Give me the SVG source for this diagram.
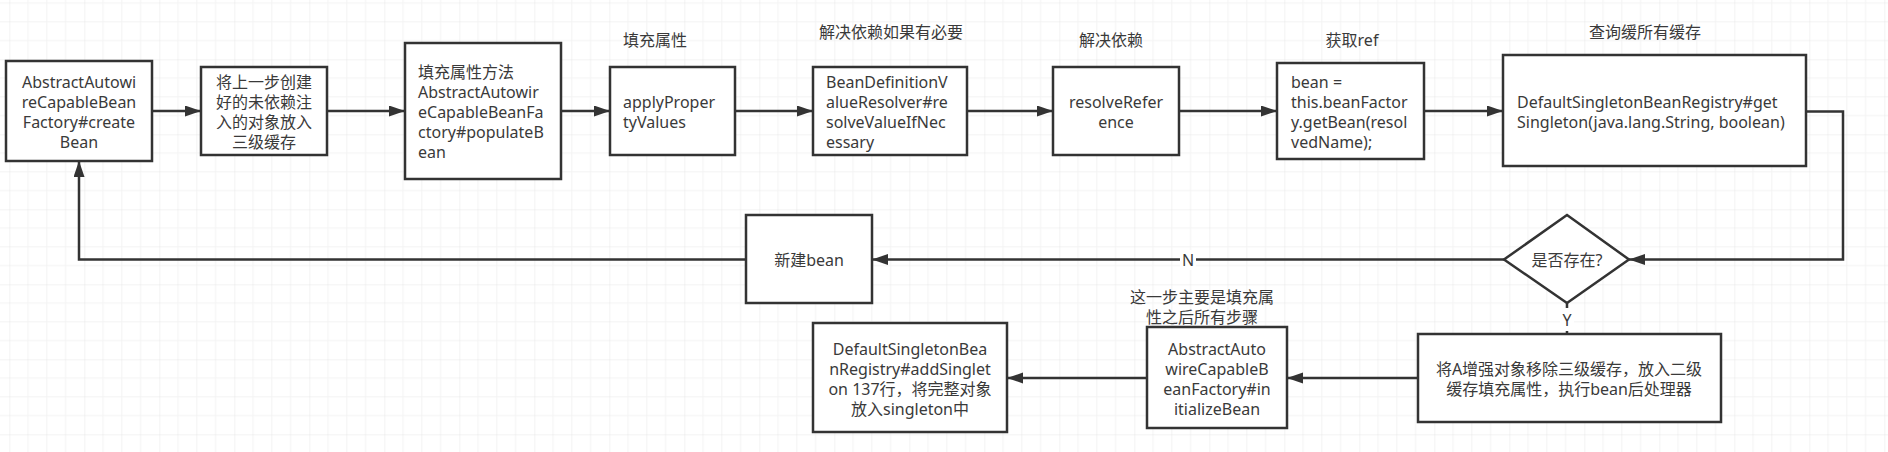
<svg xmlns="http://www.w3.org/2000/svg" width="1888" height="452" viewBox="0 0 1888 452">
<defs>
<pattern id="grid" x="9.3" y="59.3" width="75" height="75" patternUnits="userSpaceOnUse">
<rect x="0" y="18.25" width="75" height="1" fill="#f3f3f3"/>
<rect x="0" y="37" width="75" height="1" fill="#f3f3f3"/>
<rect x="0" y="55.75" width="75" height="1" fill="#f3f3f3"/>
<rect x="18.25" y="0" width="1" height="75" fill="#f3f3f3"/>
<rect x="37" y="0" width="1" height="75" fill="#f3f3f3"/>
<rect x="55.75" y="0" width="1" height="75" fill="#f3f3f3"/>
<rect x="0" y="-0.5" width="75" height="1" fill="#e6e6e6"/>
<rect x="-0.5" y="0" width="1" height="75" fill="#e6e6e6"/>
</pattern>
<marker id="arr" markerUnits="userSpaceOnUse" markerWidth="17" markerHeight="12" refX="16" refY="5.5" orient="auto">
<path d="M0,0 L16,5.5 L0,11 Z" fill="#333"/>
</marker>
</defs>
<style>
.box{fill:#fff;stroke:#333;stroke-width:2.5}
.t{font-family:"Noto Sans","Noto Sans CJK SC",sans-serif;font-size:16px;fill:#3a3a3a}
.c{text-anchor:middle}
.ln{fill:none;stroke:#333;stroke-width:2.5}
</style>
<rect width="1888" height="452" fill="#fff"/>
<rect width="1888" height="452" fill="url(#grid)"/>

<g id="connectors">
<path class="ln" d="M152,111 H201" marker-end="url(#arr)"/>
<path class="ln" d="M327,111 H405" marker-end="url(#arr)"/>
<path class="ln" d="M561,111 H610" marker-end="url(#arr)"/>
<path class="ln" d="M735,111 H813" marker-end="url(#arr)"/>
<path class="ln" d="M967,111 H1053" marker-end="url(#arr)"/>
<path class="ln" d="M1179,111 H1277" marker-end="url(#arr)"/>
<path class="ln" d="M1424,111 H1503" marker-end="url(#arr)"/>
<path class="ln" d="M1806,111.5 H1843 V259.5 H1629" marker-end="url(#arr)"/>
<path class="ln" d="M1504,259.5 H872" marker-end="url(#arr)"/>
<path class="ln" d="M746,259.5 H79 V161" marker-end="url(#arr)"/>
<path class="ln" d="M1567,303 V334"/>
<path class="ln" d="M1418,378 H1287" marker-end="url(#arr)"/>
<path class="ln" d="M1147,378 H1007" marker-end="url(#arr)"/>
<rect x="1180" y="250" width="16" height="20" fill="#fff"/>
<text class="t c" x="1188" y="265.5">N</text>
<rect x="1560" y="308" width="14" height="23" fill="#fff"/>
<text class="t c" x="1567" y="326">Y</text>
</g>

<g id="node1">
<rect class="box" x="6" y="61" width="146" height="100"/>
<text class="t c" x="79" y="87.5">AbstractAutowi</text>
<text class="t c" x="79" y="107.5">reCapableBean</text>
<text class="t c" x="79" y="127.5">Factory#create</text>
<text class="t c" x="79" y="147.5">Bean</text>
</g>

<g id="node2">
<rect class="box" x="201" y="67" width="126" height="88"/>
<text class="t c" x="264" y="87.5">将上一步创建</text>
<text class="t c" x="264" y="107.5">好的未依赖注</text>
<text class="t c" x="264" y="127.5">入的对象放入</text>
<text class="t c" x="264" y="147.5">三级缓存</text>
</g>

<g id="node3">
<rect class="box" x="405" y="43" width="156" height="136"/>
<text class="t" x="418" y="77.5">填充属性方法</text>
<text class="t" x="418" y="97.5">AbstractAutowir</text>
<text class="t" x="418" y="117.5">eCapableBeanFa</text>
<text class="t" x="418" y="137.5">ctory#populateB</text>
<text class="t" x="418" y="157.5">ean</text>
</g>

<g id="node4">
<text class="t c" x="655" y="45.5">填充属性</text>
<rect class="box" x="610" y="67" width="125" height="88"/>
<text class="t" x="623" y="107.5">applyProper</text>
<text class="t" x="623" y="127.5">tyValues</text>
</g>

<g id="node5">
<text class="t c" x="891" y="37.5">解决依赖如果有必要</text>
<rect class="box" x="813" y="67" width="154" height="88"/>
<text class="t" x="826" y="87.5">BeanDefinitionV</text>
<text class="t" x="826" y="107.5">alueResolver#re</text>
<text class="t" x="826" y="127.5">solveValueIfNec</text>
<text class="t" x="826" y="147.5">essary</text>
</g>

<g id="node6">
<text class="t c" x="1111" y="45.5">解决依赖</text>
<rect class="box" x="1053" y="67" width="126" height="88"/>
<text class="t c" x="1116" y="107.5">resolveRefer</text>
<text class="t c" x="1116" y="127.5">ence</text>
</g>

<g id="node7">
<text class="t c" x="1352" y="45.5">获取ref</text>
<rect class="box" x="1277" y="63" width="147" height="96"/>
<text class="t" x="1291" y="87.5">bean =</text>
<text class="t" x="1291" y="107.5">this.beanFactor</text>
<text class="t" x="1291" y="127.5">y.getBean(resol</text>
<text class="t" x="1291" y="147.5">vedName);</text>
</g>

<g id="node8">
<text class="t c" x="1645" y="37.5">查询缓所有缓存</text>
<rect class="box" x="1503" y="55" width="303" height="111"/>
<text class="t" x="1517" y="107.5">DefaultSingletonBeanRegistry#get</text>
<text class="t" x="1517" y="127.5">Singleton(java.lang.String, boolean)</text>
</g>

<g id="decision">
<polygon class="box" points="1567,215 1629,259.5 1567,303 1504,259.5"/>
<text class="t c" x="1567" y="266">是否存在?</text>
</g>

<g id="newBean">
<rect class="box" x="746" y="215" width="126" height="88"/>
<text class="t c" x="809" y="265.5">新建bean</text>
</g>

<g id="promote">
<rect class="box" x="1418" y="334" width="303" height="88"/>
<text class="t c" x="1569" y="374.5">将A增强对象移除三级缓存，放入二级</text>
<text class="t c" x="1569" y="394.5">缓存填充属性，执行bean后处理器</text>
</g>

<g id="initBean">
<text class="t c" x="1202" y="302.5">这一步主要是填充属</text>
<text class="t c" x="1202" y="322.5">性之后所有步骤</text>
<rect class="box" x="1147" y="327" width="140" height="101"/>
<text class="t c" x="1217" y="354.5">AbstractAuto</text>
<text class="t c" x="1217" y="374.5">wireCapableB</text>
<text class="t c" x="1217" y="394.5">eanFactory#in</text>
<text class="t c" x="1217" y="414.5">itializeBean</text>
</g>

<g id="addSingleton">
<rect class="box" x="813" y="323" width="194" height="109"/>
<text class="t c" x="910" y="354.5">DefaultSingletonBea</text>
<text class="t c" x="910" y="374.5">nRegistry#addSinglet</text>
<text class="t c" x="910" y="394.5">on 137行，将完整对象</text>
<text class="t c" x="910" y="414.5">放入singleton中</text>
</g>
</svg>
